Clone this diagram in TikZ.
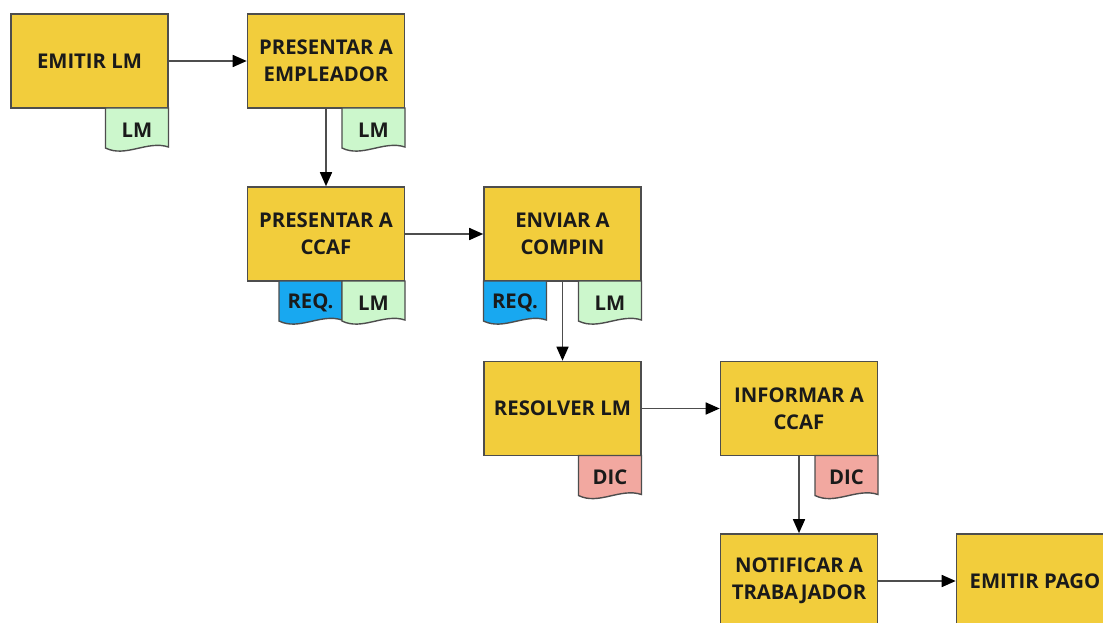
\documentclass[tikz,border=0pt]{standalone}
\usepackage{fontspec}
\setmainfont{Open Sans}
\usetikzlibrary{arrows.meta}
\definecolor{boxfill}{HTML}{F2CD3C}
\definecolor{linec}{HTML}{4D4D4D}
\definecolor{txt}{HTML}{1A1A1A}
\definecolor{tabgreen}{HTML}{CCF7CC}
\definecolor{tabblue}{HTML}{18A8F0}
\definecolor{tabpink}{HTML}{F2A8A0}
\tikzset{
  stepbox/.style={draw=linec, fill=boxfill, line width=1.6pt, minimum width=157pt, minimum height=94pt,
    inner sep=0pt, align=center, text=txt, font=\fontsize{20.3}{27}\selectfont\bfseries},
  tabtext/.style={text=txt, inner sep=0pt, font=\fontsize{20.3}{27}\selectfont\bfseries},
  tabshape/.style={draw=linec, line width=1.4pt},
  conn/.style={draw=linec, line width=1.6pt, -{Triangle[length=14pt,width=12pt,color=black]}}
}
\newcommand{\doctab}[5]{%
  \path[tabshape, fill=#4] (#2,#3) -- (#2,#3+40) .. controls (#2+20,#3+50) and (#2+42,#3+32) .. (#2+63,#3+39) -- (#2+63,#3) -- cycle;
  \node[tabtext] (#1) at (#2+31.5,#3+22) {#5};
}
\begin{document}
\begin{tikzpicture}[x=1pt,y=-1pt]
\useasboundingbox[fill=white] (0,0) rectangle (1103,623);
\clip (0,0) rectangle (1103,623);
\node[stepbox] (b1) at (89.5,61) {EMITIR LM};
\node[stepbox] (b2) at (326,61) {PRESENTAR A\\EMPLEADOR};
\node[stepbox] (b3) at (326,234) {PRESENTAR A\\CCAF};
\node[stepbox] (b4) at (562.5,234) {ENVIAR A\\COMPIN};
\node[stepbox] (b5) at (562.5,408.5) {RESOLVER LM};
\node[stepbox] (b6) at (799,408.5) {INFORMAR A\\CCAF};
\node[stepbox] (b7) at (799,581) {NOTIFICAR A\\TRABAJADOR};
\node[stepbox] (b8) at (1035,581) {EMITIR PAGO};

\doctab{t1}{105.5}{108}{tabgreen}{LM}
\doctab{t2}{342}{108}{tabgreen}{LM}
\doctab{t3a}{279}{281}{tabblue}{REQ.}
\doctab{t3b}{342}{281}{tabgreen}{LM}
\doctab{t4a}{483.5}{281}{tabblue}{REQ.}
\doctab{t4b}{578.5}{281}{tabgreen}{LM}
\doctab{t5}{578.5}{455.5}{tabpink}{DIC}
\doctab{t6}{815}{455.5}{tabpink}{DIC}

\draw[conn] (b1) -- (b2);
\draw[conn] (b2) -- (b3);
\draw[conn] (b3) -- (b4);
\draw[conn] (b4) -- (b5);
\draw[conn] (b5) -- (b6);
\draw[conn] (b6) -- (b7);
\draw[conn] (b7) -- (b8);
\end{tikzpicture}
\end{document}
